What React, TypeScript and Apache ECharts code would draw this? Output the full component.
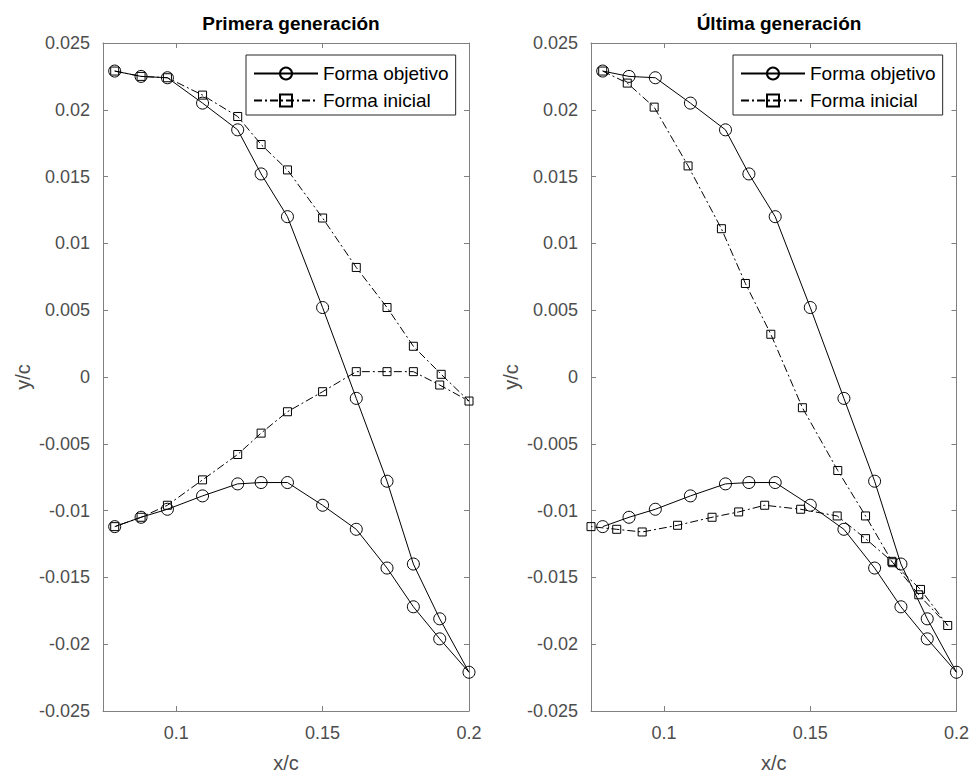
import React, { useEffect, useRef } from 'react';
import * as echarts from 'echarts';

// Axis ticks
const xTickValues = [0.1, 0.15, 0.2];
const yTickMin = -0.025;
const yTickMax = 0.025;
const yTickStep = 0.005;

// Target airfoil ("Forma objetivo"), upper and lower surfaces, leading edge -> trailing edge
const targetUpperX = [0.079, 0.088, 0.097, 0.109, 0.121, 0.129, 0.138, 0.150, 0.1615, 0.172, 0.181, 0.190, 0.200];
const targetUpperY = [0.0229, 0.0225, 0.0224, 0.0205, 0.0185, 0.0152, 0.0120, 0.0052, -0.0016, -0.0078, -0.0140, -0.0181, -0.0221];
const targetLowerX = [0.079, 0.088, 0.097, 0.109, 0.121, 0.129, 0.138, 0.150, 0.1615, 0.172, 0.181, 0.190];
const targetLowerY = [-0.0112, -0.0105, -0.0099, -0.0089, -0.0080, -0.0079, -0.0079, -0.0096, -0.0114, -0.0143, -0.0172, -0.0196];

// First generation initial shape
const firstUpperX = [0.079, 0.088, 0.097, 0.109, 0.121, 0.129, 0.138, 0.150, 0.1615, 0.172, 0.181, 0.1905, 0.200];
const firstUpperY = [0.0229, 0.0225, 0.0224, 0.0211, 0.0195, 0.0174, 0.0155, 0.0119, 0.0082, 0.0052, 0.0023, 0.0002, -0.0018];
const firstLowerX = [0.079, 0.088, 0.097, 0.109, 0.121, 0.129, 0.138, 0.150, 0.1615, 0.172, 0.181, 0.190];
const firstLowerY = [-0.0112, -0.0105, -0.0096, -0.0077, -0.0058, -0.0042, -0.0026, -0.0011, 0.0004, 0.0004, 0.0004, -0.0006];

// Last generation initial shape
const lastUpperX = [0.079, 0.0874, 0.0966, 0.1082, 0.1196, 0.1278, 0.1365, 0.1473, 0.1594, 0.1689, 0.1782, 0.1877, 0.197];
const lastUpperY = [0.0229, 0.0220, 0.0202, 0.0158, 0.0111, 0.0070, 0.0032, -0.0023, -0.0070, -0.0104, -0.0139, -0.0159, -0.0186];
const lastLowerX = [0.075, 0.0838, 0.0925, 0.1046, 0.1164, 0.1255, 0.1344, 0.1467, 0.1592, 0.1689, 0.1779, 0.1871];
const lastLowerY = [-0.0112, -0.0114, -0.0116, -0.0111, -0.0105, -0.0101, -0.0096, -0.0099, -0.0104, -0.0121, -0.0138, -0.0163];

const panelTitles = ['Primera generación', 'Última generación'];
const seriesNames = ['Forma objetivo', 'Forma inicial'];

const FONT = '"Liberation Sans", Arial, Helvetica, sans-serif';
const AXIS_COLOR = '#808080';
const TEXT_COLOR = '#4d4d4d';

// Closed contour: upper surface forward, then lower surface back to the leading edge
function contour(ux: number[], uy: number[], lx: number[], ly: number[]) {
  const pts: number[][] = ux.map((x, i) => [x, uy[i]]);
  for (let i = lx.length - 1; i >= 0; i--) pts.push([lx[i], ly[i]]);
  return pts;
}

const fmt = (v: number) => Number(v.toFixed(4)).toString();

export default function App() {
  const ref = useRef<HTMLDivElement>(null);

  useEffect(() => {
    if (!ref.current) return;
    const chart = echarts.init(ref.current, undefined, { renderer: 'svg' });

    const gridLefts = [103, 591];
    const gridTop = 43;
    const gridW = 366;
    const gridH = 672;

    const initialShapes = [
      contour(firstUpperX, firstUpperY, firstLowerX, firstLowerY),
      contour(lastUpperX, lastUpperY, lastLowerX, lastLowerY),
    ];
    const targetShape = contour(targetUpperX, targetUpperY, targetLowerX, targetLowerY);

    const axisLine = { show: true, onZero: false, lineStyle: { color: AXIS_COLOR, width: 1 } };
    const tickStyle = { lineStyle: { color: AXIS_COLOR, width: 1 } };
    const labelText = { color: TEXT_COLOR, fontSize: 18, fontFamily: FONT };
    const nameText = { color: TEXT_COLOR, fontSize: 20, fontFamily: FONT };

    const xAxes: any[] = [];
    const yAxes: any[] = [];
    const series: any[] = [];

    gridLefts.forEach((_, i) => {
      const xCommon = {
        type: 'value', gridIndex: i, min: 0.075, max: 0.2, interval: 0.025,
        axisLine, splitLine: { show: false },
        axisTick: { show: true, inside: true, length: 5, customValues: xTickValues, ...tickStyle },
      };
      xAxes.push({
        ...xCommon, position: 'bottom',
        axisLabel: { customValues: xTickValues, formatter: fmt, margin: 13, ...labelText },
        name: 'x/c', nameLocation: 'middle', nameGap: 42, nameTextStyle: nameText,
      });
      xAxes.push({ ...xCommon, position: 'top', axisLabel: { show: false } });

      const yCommon = {
        type: 'value', gridIndex: i, min: yTickMin, max: yTickMax, interval: yTickStep,
        axisLine, splitLine: { show: false },
        axisTick: { show: true, inside: true, length: 5, ...tickStyle },
      };
      yAxes.push({
        ...yCommon, position: 'left',
        axisLabel: { formatter: fmt, margin: 13, ...labelText },
        name: 'y/c', nameLocation: 'middle', nameGap: 70, nameTextStyle: nameText,
      });
      yAxes.push({ ...yCommon, position: 'right', axisLabel: { show: false } });

      series.push({
        type: 'line', name: seriesNames[0], xAxisIndex: 2 * i, yAxisIndex: 2 * i,
        data: targetShape,
        symbol: 'circle', symbolSize: 12,
        itemStyle: { color: 'rgba(255,255,255,0)', borderColor: '#000', borderWidth: 1 },
        lineStyle: { color: '#000', width: 1, type: 'solid' },
        z: 3,
      });
      series.push({
        type: 'line', name: seriesNames[1], xAxisIndex: 2 * i, yAxisIndex: 2 * i,
        data: initialShapes[i],
        symbol: 'rect', symbolSize: 8,
        itemStyle: { color: 'rgba(255,255,255,0)', borderColor: '#000', borderWidth: 1 },
        lineStyle: { color: '#000', width: 1, type: [8, 3, 2, 3] },
        z: 2,
      });
    });

    chart.setOption({
      animation: false,
      backgroundColor: '#fff',
      title: panelTitles.map((t, i) => ({
        text: t,
        left: gridLefts[i] + gridW / 2,
        top: 9,
        textAlign: 'center',
        textStyle: { fontSize: 19, fontWeight: 'bold', color: '#000', fontFamily: FONT },
      })),
      legend: gridLefts.map((l, i) => ({
        data: seriesNames,
        orient: 'vertical',
        left: l + 143 - i,
        top: 55,
        itemWidth: 64,
        itemHeight: 15,
        itemGap: 8,
        padding: [9, 7, 5, 7],
        borderColor: '#262626',
        borderWidth: 1,
        borderRadius: 0,
        backgroundColor: '#fff',
        selectedMode: false,
        textStyle: { fontSize: 19, color: '#000', fontFamily: FONT },
      })),
      grid: gridLefts.map((l) => ({ left: l, top: gridTop, width: gridW, height: gridH, containLabel: false })),
      xAxis: xAxes,
      yAxis: yAxes,
      series,
    });

    return () => chart.dispose();
  }, []);

  return (
    <div
      ref={ref}
      style={{ position: 'absolute', left: 0, top: 0, width: 972, height: 778, background: '#fff' }}
    />
  );
}
